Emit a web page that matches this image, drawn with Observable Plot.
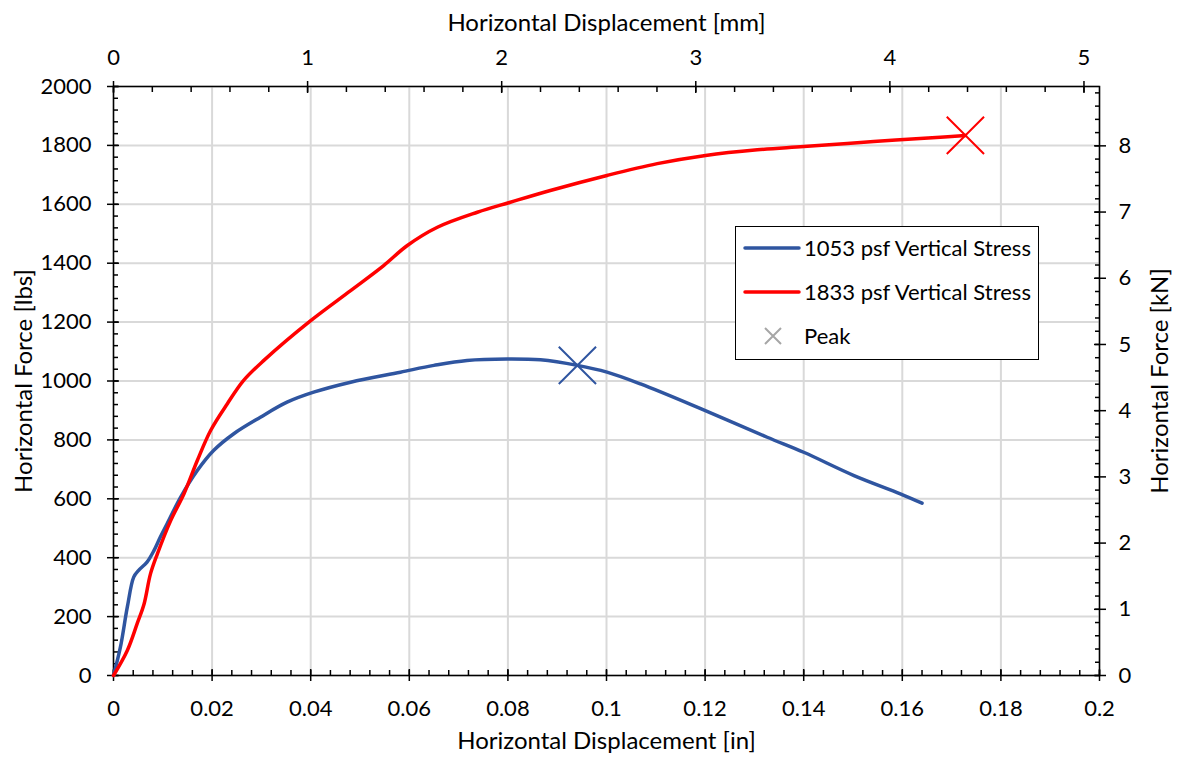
<!DOCTYPE html>
<html><head><meta charset="utf-8">
<script src="https://cdn.jsdelivr.net/npm/d3@7"></script>
<script src="https://cdn.jsdelivr.net/npm/@observablehq/plot@0.6"></script>
<style>
body{margin:0;background:#fff;}
#wrap{position:relative;width:1184px;height:764px;font-family:Lato,"Open Sans",sans-serif;}
#legend{position:absolute;left:735px;top:226px;width:302px;height:132px;border:1.5px solid #000;background:#fff;font-size:22px;color:#000;}
.row{position:absolute;left:0;height:26px;display:flex;align-items:center;}
.row svg{display:block;}
.row span{position:absolute;left:68px;white-space:nowrap;line-height:26px;}
</style></head><body><div id="wrap"></div>
<script>
// ---- data ----
const blueX = [0,0.0014,0.0028,0.0041,0.0051,0.0068,0.0082,0.0095,0.0109,0.0136,0.0170,0.0203,0.0244,0.0298,0.0352,0.0406,0.0481,0.0582,0.0650,0.0717,0.0799,0.0866,0.0941,0.1001,0.1069,0.1191,0.1326,0.1400,0.1502,0.1596,0.1640];
const blueY = [0,96,232,334,357,385,424,470,516,605,696,764,821,877,928,962,996,1030,1053,1070,1075,1072,1053,1030,990,906,809,758,679,617,585];
const redX = [0,0.0028,0.0048,0.0062,0.0075,0.0089,0.0116,0.0143,0.0170,0.0197,0.0231,0.0264,0.0305,0.0400,0.0481,0.0548,0.0596,0.0657,0.0738,0.0805,0.0886,0.1001,0.1103,0.1201,0.1306,0.1400,0.1542,0.1677,0.1728];
const redY = [0,85,176,243,345,413,526,617,730,832,923,1002,1070,1205,1307,1392,1460,1522,1573,1607,1647,1698,1738,1766,1785,1796,1813,1828,1834];
const peakX = [0.0941,0.1728];
const peakY = [1053,1834];
const seriesNames = ["1053 psf Vertical Stress","1833 psf Vertical Stress"];
const seriesColors = ["#2F55A0","#FF0000"];
const peakName = "Peak";
const peakLegendColor = "#A6A6A6";

// ---- axes ----
const xTicks = [0,0.02,0.04,0.06,0.08,0.1,0.12,0.14,0.16,0.18,0.2];
const yTicks = [0,200,400,600,800,1000,1200,1400,1600,1800,2000];
const mmTicks = [0,1,2,3,4,5];
const kNTicks = [0,1,2,3,4,5,6,7,8];
const MM_PER_IN = 25.4;
const LBF_PER_KN = 224.809;
const xMinor = d3.range(0, 0.2001, 0.004);
const yMinor = d3.range(0, 2001, 40);
const mmMinor = d3.range(0, 5.001, 0.2).map(m => m / MM_PER_IN);
const kNMinor = d3.range(0, 8.81, 0.2).map(k => k * LBF_PER_KN);
const mmMajor = mmTicks.map(m => m / MM_PER_IN);
const kNMajor = kNTicks.map(k => k * LBF_PER_KN);

const FS = 22;
const ax = {stroke: "black", strokeWidth: 1.5, fill: "none", label: null};
const tx = {fontSize: FS, fill: "black"};
const lab = {labelAnchor: "center", labelArrow: "none"};

const blue = blueX.map((x, i) => ({x, y: blueY[i]}));
const red = redX.map((x, i) => ({x, y: redY[i]}));
const peaks = peakX.map((x, i) => ({x, y: peakY[i], c: seriesColors[i]}));

const chart = Plot.plot({
  width: 1184, height: 764,
  marginLeft: 113, marginRight: 85, marginTop: 86, marginBottom: 89,
  style: {fontFamily: "Lato, 'Open Sans', sans-serif", fontSize: FS + "px", background: "white", color: "black"},
  x: {domain: [0, 0.2]},
  y: {domain: [0, 2000]},
  marks: [
    Plot.gridX(xTicks, {stroke: "#D9D9D9", strokeOpacity: 1, strokeWidth: 2}),
    Plot.gridY(yTicks, {stroke: "#D9D9D9", strokeOpacity: 1, strokeWidth: 2}),
    Plot.frame({stroke: "black", strokeWidth: 1.5}),
    // minor ticks (inside)
    Plot.axisX({...ax, anchor: "bottom", ticks: xMinor, tickSize: 5, dy: -5}),
    Plot.axisX({...ax, anchor: "top", ticks: mmMinor, tickSize: 5, dy: 5}),
    Plot.axisY({...ax, anchor: "left", ticks: yMinor, tickSize: 5, dx: 5}),
    Plot.axisY({...ax, anchor: "right", ticks: kNMinor, tickSize: 5, dx: -5}),
    // major ticks (cross)
    Plot.axisX({...ax, anchor: "bottom", ticks: xTicks, tickSize: 12, dy: -6}),
    Plot.axisX({...ax, anchor: "top", ticks: mmMajor, tickSize: 12, dy: 6}),
    Plot.axisY({...ax, anchor: "left", ticks: yTicks, tickSize: 12, dx: 6}),
    Plot.axisY({...ax, anchor: "right", ticks: kNMajor, tickSize: 12, dx: -6}),
    // tick labels
    Plot.axisX({...tx, anchor: "bottom", ticks: xTicks, tickSize: 0, tickPadding: 25,
      tickFormat: d => String(+d.toFixed(3)), label: null}),
    Plot.axisX({...tx, anchor: "top", ticks: mmMajor, tickSize: 0, tickPadding: 22,
      tickFormat: d => String(Math.round(d * MM_PER_IN)), label: null}),
    Plot.axisY({...tx, anchor: "left", ticks: yTicks, tickSize: 0, tickPadding: 22,
      tickFormat: d => String(d), label: null}),
    Plot.axisY({...tx, anchor: "right", ticks: kNMajor, tickSize: 0, tickPadding: 19,
      tickFormat: d => String(Math.round(d / LBF_PER_KN)), label: null}),
    // axis titles
    Plot.axisX({...lab, anchor: "bottom", ticks: [], tickSize: 0, fontSize: 24, fill: "black",
      label: "Horizontal Displacement [in]", labelOffset: 73}),
    Plot.axisX({...lab, anchor: "top", ticks: [], tickSize: 0, fontSize: 24, fill: "black",
      label: "Horizontal Displacement [mm]", labelOffset: 73}),
    Plot.axisY({...lab, anchor: "left", ticks: [], tickSize: 0, fontSize: 24, fill: "black",
      label: "Horizontal Force [lbs]", labelOffset: 99}),
    Plot.axisY({...lab, anchor: "right", ticks: [], tickSize: 0, fontSize: 24, fill: "black",
      label: "Horizontal Force [kN]", labelOffset: 68}),
    // data
    Plot.line(blue, {x: "x", y: "y", stroke: seriesColors[0], strokeWidth: 3.5, curve: "catmull-rom"}),
    Plot.line(red, {x: "x", y: "y", stroke: seriesColors[1], strokeWidth: 3.5, curve: "catmull-rom"}),
    Plot.dot(peaks, {x: "x", y: "y", symbol: "times", r: 17, stroke: "c", strokeWidth: 2})
  ]
});
const wrap = document.getElementById("wrap");
wrap.appendChild(chart);

// legend (HTML overlay inside plot area)
const legend = document.createElement("div");
legend.id = "legend";
const rows = [
  {name: seriesNames[0], color: seriesColors[0], kind: "line"},
  {name: seriesNames[1], color: seriesColors[1], kind: "line"},
  {name: peakName, color: peakLegendColor, kind: "x"}
];
rows.forEach((r, i) => {
  const row = document.createElement("div");
  row.className = "row";
  row.style.top = (8 + i * 44) + "px";
  const sw = r.kind === "line"
    ? `<svg width="66" height="26"><line x1="9" x2="63" y1="13" y2="13" stroke="${r.color}" stroke-width="3.5" stroke-linecap="round"/></svg>`
    : `<svg width="66" height="26"><path d="M29,5L45,21M45,5L29,21" stroke="${r.color}" stroke-width="2"/></svg>`;
  row.innerHTML = sw + `<span>${r.name}</span>`;
  legend.appendChild(row);
});
wrap.appendChild(legend);
</script>
</body></html>
